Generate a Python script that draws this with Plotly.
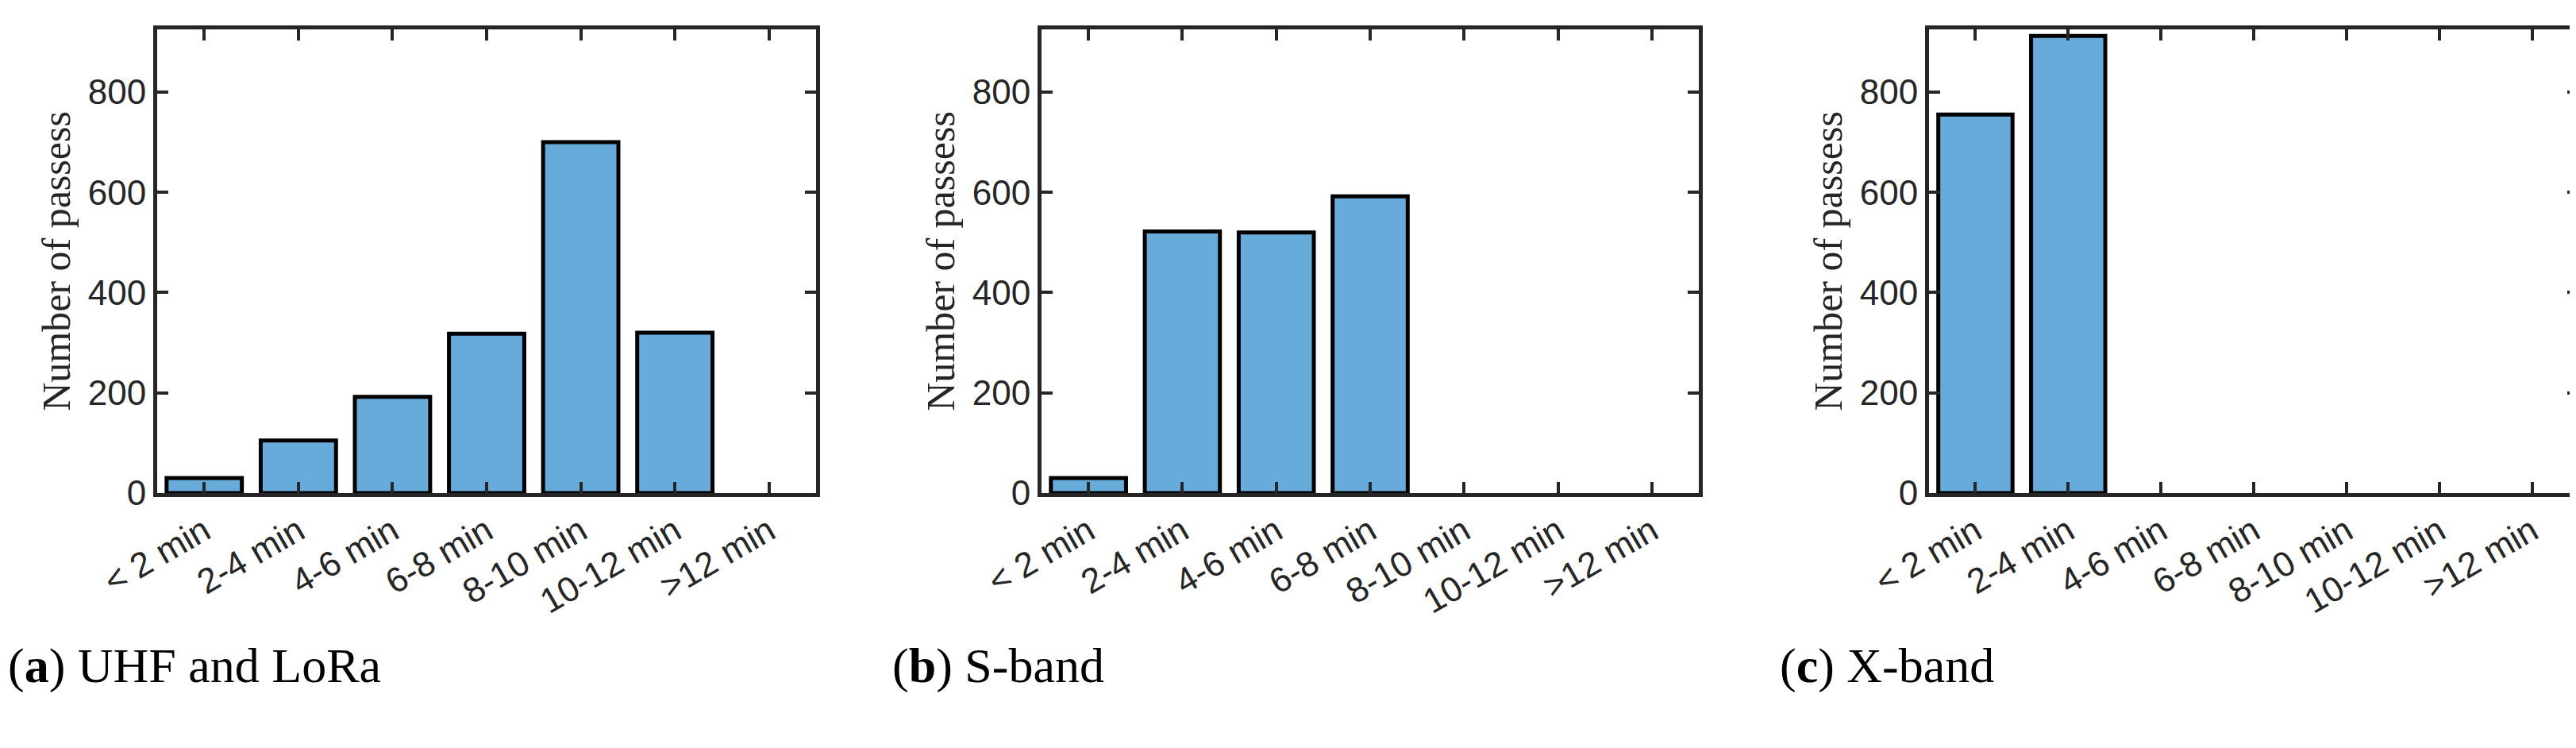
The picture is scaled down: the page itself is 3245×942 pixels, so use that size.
import plotly.graph_objects as go

categories = ["< 2 min", "2-4 min", "4-6 min", "6-8 min", "8-10 min", "10-12 min", ">12 min"]
uhf_lora = [30, 105, 192, 318, 700, 320, 0]
s_band = [30, 522, 520, 592, 0, 0, 0]
x_band = [755, 912, 0, 0, 0, 0, 0]
captions = ["(<b>a</b>) UHF and LoRa", "(<b>b</b>) S-band", "(<b>c</b>) X-band"]

W, H = 3245, 942
domains = [(190, 1020), (1304, 2132), (2422, 3240)]
ydom = [1 - 613 / H, 1 - 29 / H]

fig = go.Figure()
for i, vals in enumerate([uhf_lora, s_band, x_band]):
    n = "" if i == 0 else str(i + 1)
    yv = [v if v else None for v in vals]
    fig.add_trace(go.Bar(x=categories, y=yv, xaxis="x" + n, yaxis="y" + n,
                         marker=dict(color="#66abd9", line=dict(color="#000", width=5)),
                         width=0.8, showlegend=False))
    d = domains[i]
    ax = dict(domain=[d[0] / W, d[1] / W], anchor="y" + n, showline=True, mirror="ticks",
              linecolor="#262626", linewidth=5, ticks="inside", ticklen=14, tickwidth=4,
              tickcolor="#262626", tickangle=-30, showgrid=False, automargin=False,
              tickfont=dict(family="Liberation Sans", size=44, color="#262626"),
              range=[-0.5, 6.5], type="category")
    ay = dict(domain=ydom, anchor="x" + n, showline=True, mirror="ticks",
              linecolor="#262626", linewidth=5, ticks="inside", ticklen=14, tickwidth=4,
              tickcolor="#262626", range=[0, 925], tickvals=[0, 200, 400, 600, 800],
              showgrid=False, zeroline=False, automargin=False,
              tickfont=dict(family="Liberation Sans", size=44, color="#262626"),
              title=dict(text="Number of passess", standoff=8,
                         font=dict(family="Liberation Serif", size=50, color="#262626")))
    fig.update_layout(**{"xaxis" + n: ax, "yaxis" + n: ay})
    fig.add_annotation(text=captions[i], x=(d[0] - 190) / W, y=1 - 830 / H, xref="paper", yref="paper",
                       xanchor="left", yanchor="middle", showarrow=False,
                       font=dict(family="Liberation Serif", size=62, color="black"))

fig.update_layout(width=W, height=H, margin=dict(l=0, r=0, t=0, b=0),
                  plot_bgcolor="white", paper_bgcolor="white", bargap=0.2)
fig.write_html("out.html")
